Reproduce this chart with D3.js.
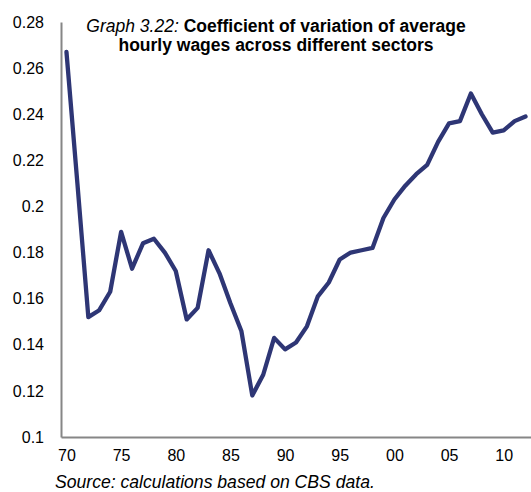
<!DOCTYPE html>
<html>
<head>
<meta charset="utf-8">
<script src="https://cdn.jsdelivr.net/npm/d3@7"></script>
<style>
  body { margin: 0; background: #fff; }
  svg { display: block; font-family: "Liberation Sans", Arial, sans-serif; }
</style>
</head>
<body>
<svg width="531" height="492"></svg>
<script>
// coefficient of variation, one value per year 1970-2012
var years = d3.range(1970, 2013);
var cv = [0.267, 0.210, 0.152, 0.155, 0.163, 0.189, 0.173, 0.184, 0.186, 0.180,
          0.172, 0.151, 0.156, 0.181, 0.171, 0.158, 0.146, 0.118, 0.127, 0.143,
          0.138, 0.141, 0.148, 0.161, 0.167, 0.177, 0.180, 0.181, 0.182, 0.195,
          0.203, 0.209, 0.214, 0.218, 0.228, 0.236, 0.237, 0.249, 0.240, 0.232,
          0.233, 0.237, 0.239];
var yTicks = [0.1, 0.12, 0.14, 0.16, 0.18, 0.2, 0.22, 0.24, 0.26, 0.28];
var xTicks = [1970, 1975, 1980, 1985, 1990, 1995, 2000, 2005, 2010];

var data = years.map(function(y, i) { return {year: y, value: cv[i]}; });

var svg = d3.select("svg"),
    margin = {top: 22, right: 0, bottom: 55, left: 61},
    width = +svg.attr("width") - margin.left - margin.right,
    height = +svg.attr("height") - margin.top - margin.bottom;

var x = d3.scalePoint()
    .domain(years)
    .range([0, width])
    .padding(0.5);

var y = d3.scaleLinear()
    .domain([0.1, 0.28])
    .range([height, 0]);

var g = svg.append("g")
    .attr("transform", "translate(" + margin.left + "," + margin.top + ")");

var yAxis = d3.axisLeft(y)
    .tickValues(yTicks)
    .tickSize(0)
    .tickPadding(17)
    .tickFormat(function(d) { return d3.format("")(+d.toFixed(2)); });

var xAxis = d3.axisBottom(x)
    .tickValues(xTicks)
    .tickSize(0)
    .tickPadding(13)
    .tickFormat(function(d) { return String(d).slice(2); });

g.append("g")
    .attr("class", "axis axis--y")
    .call(yAxis)
    .call(function(s) {
      s.select(".domain").attr("stroke", "#868686").attr("stroke-width", 2);
      s.selectAll("text").attr("font-size", 16).attr("fill", "#000").attr("font-family", null);
    });

g.append("g")
    .attr("class", "axis axis--x")
    .attr("transform", "translate(0," + height + ")")
    .call(xAxis)
    .call(function(s) {
      s.select(".domain").attr("stroke", "#868686").attr("stroke-width", 2);
      s.selectAll("text").attr("font-size", 16).attr("fill", "#000").attr("font-family", null);
    });

var line = d3.line()
    .x(function(d) { return x(d.year); })
    .y(function(d) { return y(d.value); });

g.append("path")
    .datum(data)
    .attr("fill", "none")
    .attr("stroke", "#2e3675")
    .attr("stroke-width", 4.3)
    .attr("stroke-linejoin", "round")
    .attr("stroke-linecap", "round")
    .attr("d", line);

// title
var title = svg.append("text")
    .attr("text-anchor", "middle")
    .attr("font-size", 17.5);
title.append("tspan")
    .attr("x", 276).attr("y", 32)
    .attr("font-style", "italic")
    .text("Graph 3.22: ");
title.append("tspan")
    .attr("font-weight", "bold")
    .text("Coefficient of variation of average");
title.append("tspan")
    .attr("x", 276).attr("y", 51)
    .attr("font-weight", "bold")
    .text("hourly wages across different sectors");

svg.append("text")
    .attr("x", 55)
    .attr("y", 488)
    .attr("font-size", 17.6)
    .attr("font-style", "italic")
    .text("Source: calculations based on CBS data.");
</script>
</body>
</html>
